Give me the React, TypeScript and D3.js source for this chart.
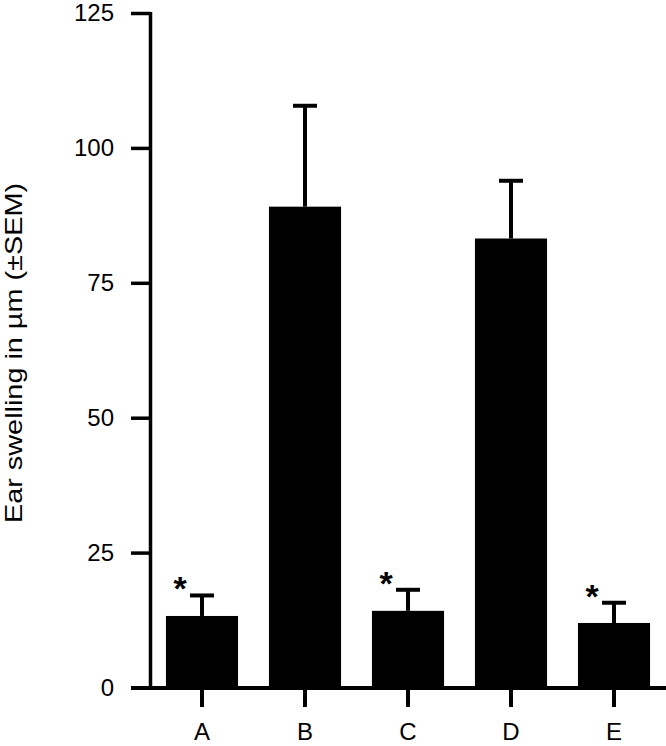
import React from "react";
import * as d3 from "d3";

const categories = ["A", "B", "C", "D", "E"];
const means = [13.35, 89.2, 14.3, 83.3, 12.05];
const sems = [3.8, 18.7, 3.9, 10.7, 3.75];
const significant = [true, false, true, false, true];
const yTicks = [0, 25, 50, 75, 100, 125];
const yLabel = "Ear swelling in µm (±SEM)";

const W = 666;
const H = 746;
const FONT = "'Liberation Sans', Arial, Helvetica, sans-serif";

export default function App() {
  const y = d3.scaleLinear().domain([0, 125]).range([688, 13.5]);
  const x = d3
    .scaleBand<string>()
    .domain(categories)
    .range([150.5, 665.5])
    .paddingInner(0.3)
    .paddingOuter(0.15);
  const axisX = 150.5;
  const bw = x.bandwidth();
  const capW = 24;

  return (
    <svg
      width={W}
      height={H}
      style={{ position: "absolute", left: 0, top: 0, background: "#fff" }}
      fontFamily={FONT}
    >
      {/* bars */}
      {categories.map((c, i) => {
        const x0 = x(c)!;
        const cx = x0 + bw / 2;
        const top = y(means[i]);
        const errTop = y(means[i] + sems[i]);
        return (
          <g key={c}>
            <rect x={x0} y={top} width={bw} height={y(0) - top} fill="#000" />
            <line x1={cx} x2={cx} y1={top} y2={errTop} stroke="#000" strokeWidth={4} />
            <line
              x1={cx - capW / 2}
              x2={cx + capW / 2}
              y1={errTop}
              y2={errTop}
              stroke="#000"
              strokeWidth={4}
            />
            {significant[i] && (
              <text
                x={cx - 22}
                y={errTop - 14 + 19}
                fontSize={34}
                fontWeight="bold"
                textAnchor="middle"
                fill="#000"
              >
                *
              </text>
            )}
            {/* x tick */}
            <line x1={cx} x2={cx} y1={688} y2={707} stroke="#000" strokeWidth={4} />
            <text x={cx} y={740} fontSize={24} textAnchor="middle" fill="#000">
              {c}
            </text>
          </g>
        );
      })}

      {/* y axis */}
      <line x1={axisX} x2={axisX} y1={y(125) - 1.5} y2={y(0)} stroke="#000" strokeWidth={3.5} />
      {yTicks.map((t) => (
        <g key={t}>
          <line x1={131} x2={axisX} y1={y(t)} y2={y(t)} stroke="#000" strokeWidth={3.5} />
          <text
            x={114}
            y={y(t)}
            dy="0.33em"
            fontSize={24}
            textAnchor="end"
            fill="#000"
          >
            {t}
          </text>
        </g>
      ))}

      {/* x axis */}
      <line x1={131} x2={666} y1={y(0)} y2={y(0)} stroke="#000" strokeWidth={4} />

      {/* y label */}
      <text
        transform={`translate(22, 353) rotate(-90)`}
        fontSize={24}
        textAnchor="middle"
        textLength={340}
        lengthAdjust="spacingAndGlyphs"
        fill="#000"
      >
        {yLabel}
      </text>
    </svg>
  );
}
